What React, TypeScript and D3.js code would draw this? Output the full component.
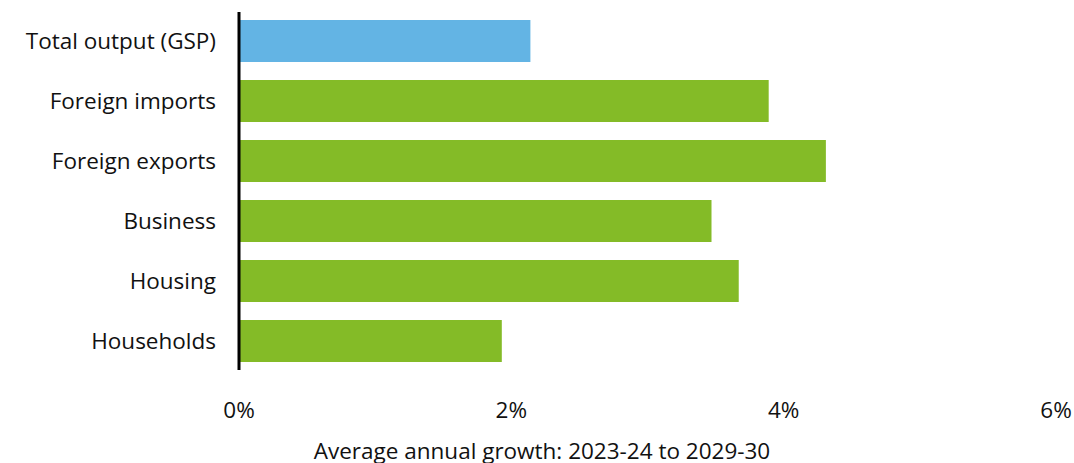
import React from "react";
import * as d3 from "d3";

const categories = ["Total output (GSP)", "Foreign imports", "Foreign exports", "Business", "Housing", "Households"];
const values = [2.14, 3.89, 4.31, 3.47, 3.67, 1.93];
const highlight = ["Total output (GSP)"];
const xTicks = [0, 2, 4, 6];
const axisTitle = "Average annual growth: 2023-24 to 2029-30";

export default function App() {
  const W = 1074, H = 463;
  const x = d3.scaleLinear().domain([0, 6]).range([239, 1056]);
  const y = d3.scaleBand<string>().domain(categories).range([11, 371]).paddingInner(0.3).paddingOuter(0.15);
  const font = "'Open Sans', sans-serif";
  const fs = 22.5;
  return (
    <svg width={W} height={H} style={{ position: "absolute", left: 0, top: 0 }}>
      <rect width={W} height={H} fill="#fff" />
      {categories.map((c, i) => (
        <g key={c}>
          <rect x={x(0)} y={y(c)} width={x(values[i]) - x(0)} height={y.bandwidth()}
            fill={highlight.includes(c) ? "#63b4e4" : "#84bb27"} />
          <text x={216} y={(y(c) as number) + y.bandwidth() / 2} dy="0.35em" textAnchor="end"
            fontFamily={font} fontSize={fs} fill="#111">{c}</text>
        </g>
      ))}
      <line x1={x(0)} x2={x(0)} y1={12} y2={370} stroke="#000" strokeWidth={3} />
      {xTicks.map(t => (
        <text key={t} x={x(t)} y={418} textAnchor="middle" fontFamily={font} fontSize={fs} fill="#111">{t}%</text>
      ))}
      <text x={542} y={459} textAnchor="middle" fontFamily={font} fontSize={fs} fill="#111">{axisTitle}</text>
    </svg>
  );
}
